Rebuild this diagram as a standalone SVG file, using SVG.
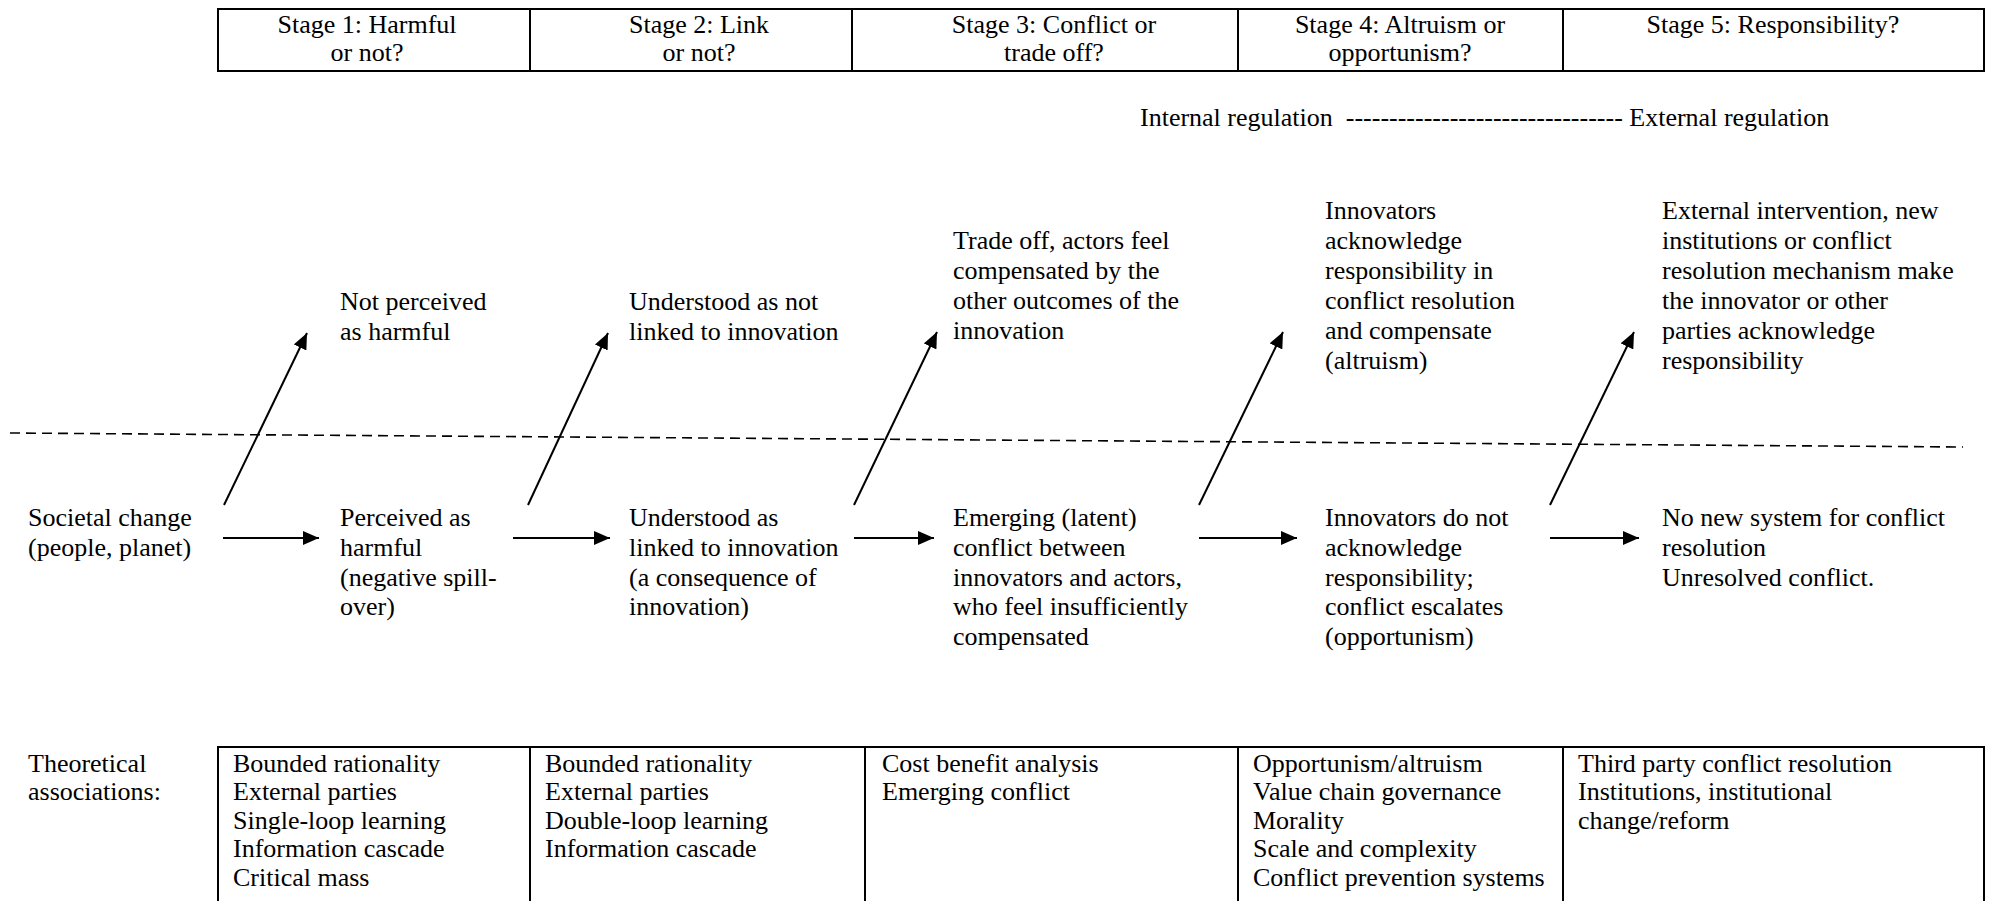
<svg xmlns="http://www.w3.org/2000/svg" width="1992" height="901" viewBox="0 0 1992 901" font-family="Liberation Serif, Times New Roman, serif">
<defs>
<style>
text{font-family:"Liberation Serif","Times New Roman",Times,serif;font-size:26px;fill:#000}
.c{text-anchor:middle}
.tb{fill:none;stroke:#000;stroke-width:2}
.ln{stroke:#000;stroke-width:2;fill:none}
.dash{stroke:#000;stroke-width:1.6;stroke-dasharray:10 6;fill:none}
</style>
<marker id="ah" viewBox="0 0 16 14" refX="16" refY="7" markerWidth="16" markerHeight="14" markerUnits="userSpaceOnUse" orient="auto">
<path d="M0,0 L16,7 L0,14 Z" fill="#000"/>
</marker>
</defs>
<rect width="1992" height="901" fill="#fff"/>

<g id="header-table">
<rect class="tb" x="218" y="9" width="1766" height="62"/>
<line class="tb" x1="530" y1="9" x2="530" y2="71"/>
<line class="tb" x1="852" y1="9" x2="852" y2="71"/>
<line class="tb" x1="1238" y1="9" x2="1238" y2="71"/>
<line class="tb" x1="1563" y1="9" x2="1563" y2="71"/>
<text class="c" x="367" y="33">Stage 1: Harmful</text>
<text class="c" x="367" y="61">or not?</text>
<text class="c" x="699" y="33">Stage 2: Link</text>
<text class="c" x="699" y="61">or not?</text>
<text class="c" x="1054" y="33">Stage 3: Conflict or</text>
<text class="c" x="1054" y="61">trade off?</text>
<text class="c" x="1400" y="33">Stage 4: Altruism or</text>
<text class="c" x="1400" y="61">opportunism?</text>
<text class="c" x="1773" y="33">Stage 5: Responsibility?</text>
</g>

<g id="regulation-scale">
<text x="1140" y="126" xml:space="preserve">Internal regulation  -------------------------------- External regulation</text>
</g>

<g id="connectors">
<line class="dash" x1="10" y1="433" x2="1963" y2="447"/>
<line class="ln" x1="223" y1="538" x2="319" y2="538" marker-end="url(#ah)"/>
<line class="ln" x1="513" y1="538" x2="610" y2="538" marker-end="url(#ah)"/>
<line class="ln" x1="854" y1="538" x2="934" y2="538" marker-end="url(#ah)"/>
<line class="ln" x1="1199" y1="538" x2="1297" y2="538" marker-end="url(#ah)"/>
<line class="ln" x1="1550" y1="538" x2="1639" y2="538" marker-end="url(#ah)"/>
<line class="ln" x1="224" y1="505" x2="307" y2="333" marker-end="url(#ah)"/>
<line class="ln" x1="528" y1="505" x2="608" y2="333" marker-end="url(#ah)"/>
<line class="ln" x1="854" y1="505" x2="937" y2="332" marker-end="url(#ah)"/>
<line class="ln" x1="1199" y1="505" x2="1283" y2="332" marker-end="url(#ah)"/>
<line class="ln" x1="1550" y1="505" x2="1634" y2="332" marker-end="url(#ah)"/>
</g>

<g id="societal-change">
<text x="28" y="526">Societal change</text>
<text x="28" y="556">(people, planet)</text>
</g>

<g id="not-perceived">
<text x="340" y="310">Not perceived</text>
<text x="340" y="340">as harmful</text>
</g>
<g id="perceived">
<text x="340" y="526">Perceived as</text>
<text x="340" y="556">harmful</text>
<text x="340" y="586">(negative spill-</text>
<text x="340" y="615">over)</text>
</g>

<g id="not-linked">
<text x="629" y="310">Understood as not</text>
<text x="629" y="340">linked to innovation</text>
</g>
<g id="linked">
<text x="629" y="526">Understood as</text>
<text x="629" y="556">linked to innovation</text>
<text x="629" y="586">(a consequence of</text>
<text x="629" y="615">innovation)</text>
</g>

<g id="trade-off">
<text x="953" y="249">Trade off, actors feel</text>
<text x="953" y="279">compensated by the</text>
<text x="953" y="309">other outcomes of the</text>
<text x="953" y="339">innovation</text>
</g>
<g id="emerging-conflict">
<text x="953" y="526">Emerging (latent)</text>
<text x="953" y="556">conflict between</text>
<text x="953" y="586">innovators and actors,</text>
<text x="953" y="615">who feel insufficiently</text>
<text x="953" y="645">compensated</text>
</g>

<g id="altruism">
<text x="1325" y="219">Innovators</text>
<text x="1325" y="249">acknowledge</text>
<text x="1325" y="279">responsibility in</text>
<text x="1325" y="309">conflict resolution</text>
<text x="1325" y="339">and compensate</text>
<text x="1325" y="369">(altruism)</text>
</g>
<g id="opportunism">
<text x="1325" y="526">Innovators do not</text>
<text x="1325" y="556">acknowledge</text>
<text x="1325" y="586">responsibility;</text>
<text x="1325" y="615">conflict escalates</text>
<text x="1325" y="645">(opportunism)</text>
</g>

<g id="external-intervention">
<text x="1662" y="219">External intervention, new</text>
<text x="1662" y="249">institutions or conflict</text>
<text x="1662" y="279">resolution mechanism make</text>
<text x="1662" y="309">the innovator or other</text>
<text x="1662" y="339">parties acknowledge</text>
<text x="1662" y="369">responsibility</text>
</g>
<g id="unresolved">
<text x="1662" y="526">No new system for conflict</text>
<text x="1662" y="556">resolution</text>
<text x="1662" y="586">Unresolved conflict.</text>
</g>

<g id="theoretical-label">
<text x="28" y="772">Theoretical</text>
<text x="28" y="800">associations:</text>
</g>

<g id="theory-table">
<polyline class="tb" points="218,902 218,747 1984,747 1984,902"/>
<line class="tb" x1="530" y1="747" x2="530" y2="902"/>
<line class="tb" x1="865" y1="747" x2="865" y2="902"/>
<line class="tb" x1="1238" y1="747" x2="1238" y2="902"/>
<line class="tb" x1="1563" y1="747" x2="1563" y2="902"/>
<text x="233" y="772">Bounded rationality</text>
<text x="233" y="800">External parties</text>
<text x="233" y="829">Single-loop learning</text>
<text x="233" y="857">Information cascade</text>
<text x="233" y="886">Critical mass</text>
<text x="545" y="772">Bounded rationality</text>
<text x="545" y="800">External parties</text>
<text x="545" y="829">Double-loop learning</text>
<text x="545" y="857">Information cascade</text>
<text x="882" y="772">Cost benefit analysis</text>
<text x="882" y="800">Emerging conflict</text>
<text x="1253" y="772">Opportunism/altruism</text>
<text x="1253" y="800">Value chain governance</text>
<text x="1253" y="829">Morality</text>
<text x="1253" y="857">Scale and complexity</text>
<text x="1253" y="886">Conflict prevention systems</text>
<text x="1578" y="772">Third party conflict resolution</text>
<text x="1578" y="800">Institutions, institutional</text>
<text x="1578" y="829">change/reform</text>
</g>
</svg>
